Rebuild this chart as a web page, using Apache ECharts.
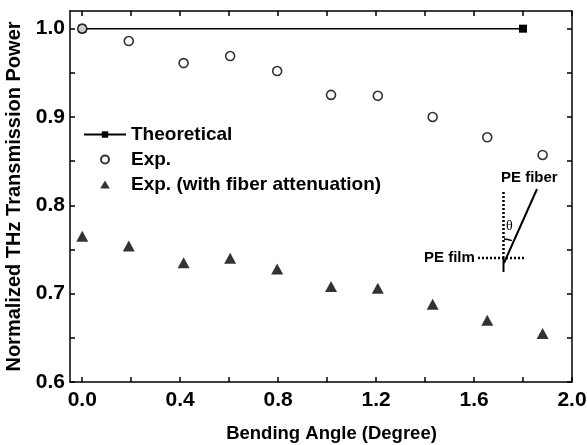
<!DOCTYPE html>
<html>
<head>
<meta charset="utf-8">
<script src="https://cdn.jsdelivr.net/npm/echarts@6/dist/echarts.min.js"></script>
<style>html,body{margin:0;padding:0;background:#fff;}#c{width:587px;height:445px;}</style>
</head>
<body>
<div id="c"></div>
<script>
var theoX = [0.0, 1.8];
var theoY = [1.0, 1.0];
var angles = [0.0, 0.19, 0.414, 0.604, 0.796, 1.016, 1.207, 1.431, 1.654, 1.88];
var expVals = [1.0, 0.986, 0.961, 0.969, 0.952, 0.925, 0.924, 0.900, 0.877, 0.857];
var expAttVals = [0.765, 0.754, 0.735, 0.740, 0.728, 0.708, 0.706, 0.688, 0.670, 0.655];
var xTickLabels = [0.0, 0.4, 0.8, 1.2, 1.6, 2.0];
var xTicks = [0.0, 0.2, 0.4, 0.6, 0.8, 1.0, 1.2, 1.4, 1.6, 1.8, 2.0];
var yTickLabels = [0.6, 0.7, 0.8, 0.9, 1.0];
var yTicks = [0.6, 0.65, 0.7, 0.75, 0.8, 0.85, 0.9, 0.95, 1.0];

function pairs(xs, ys) { return xs.map(function (x, i) { return [x, ys[i]]; }); }

var FONT = '"Liberation Sans", Arial, sans-serif';
var lineCol = '#000';
var axisLine = { show: true, onZero: false, lineStyle: { color: lineCol, width: 1.5 } };
var tickStyle = { color: lineCol, width: 1.5 };

var chart = echarts.init(document.getElementById('c'));
chart.setOption({
  animation: false,
  backgroundColor: '#fff',
  grid: { left: 70, right: 15, top: 11, bottom: 63, containLabel: false, outerBoundsMode: 'none' },
  legend: {
    orient: 'vertical',
    left: 83,
    top: 125,
    padding: 0,
    itemWidth: 42,
    itemHeight: 8,
    itemGap: 6,
    textStyle: { fontFamily: FONT, fontWeight: 'bold', fontSize: 19, color: '#000', lineHeight: 17 },
    data: [
      { name: 'Theoretical' },
      { name: 'Exp.' },
      { name: 'Exp. (with fiber attenuation)', icon: 'path://M6,0 L12,10 L0,10 Z' }
    ]
  },
  xAxis: [{
    type: 'value', min: -0.05, max: 2.0, position: 'bottom',
    name: 'Bending Angle (Degree)', nameLocation: 'middle', nameGap: 42,
    nameTextStyle: { fontFamily: FONT, fontWeight: 'bold', fontSize: 18.5, color: '#000', padding: [0, 0, 0, 21] },
    axisLine: axisLine,
    axisTick: { show: true, inside: true, length: 5, lineStyle: tickStyle, customValues: xTicks },
    axisLabel: { show: true, customValues: xTickLabels, margin: 8, fontFamily: FONT, fontWeight: 'bold', fontSize: 21, color: '#000',
      formatter: function (v) { return v.toFixed(1); } },
    splitLine: { show: false }
  }, {
    type: 'value', min: -0.05, max: 2.0, position: 'top',
    axisLine: axisLine,
    axisTick: { show: true, inside: true, length: 5, lineStyle: tickStyle, customValues: xTicks },
    axisLabel: { show: false },
    splitLine: { show: false }
  }],
  yAxis: [{
    type: 'value', min: 0.6, max: 1.02, position: 'left',
    name: 'Normalized THz Transmission Power', nameLocation: 'middle', nameGap: 40,
    nameTextStyle: { fontFamily: FONT, fontWeight: 'bold', fontSize: 20, color: '#000' },
    axisLine: axisLine,
    axisTick: { show: true, inside: true, length: 5, lineStyle: tickStyle, customValues: yTicks },
    axisLabel: { show: true, customValues: yTickLabels, margin: 5, fontFamily: FONT, fontWeight: 'bold', fontSize: 21, color: '#000',
      formatter: function (v) { return v.toFixed(1); } },
    splitLine: { show: false }
  }, {
    type: 'value', min: 0.6, max: 1.02, position: 'right',
    axisLine: axisLine,
    axisTick: { show: true, inside: true, length: 5, lineStyle: tickStyle, customValues: yTicks },
    axisLabel: { show: false },
    splitLine: { show: false }
  }],
  series: [{
    name: 'Theoretical', type: 'line', data: pairs(theoX, theoY), z: 2,
    symbol: 'rect', symbolSize: 8, showAllSymbol: true,
    lineStyle: { color: '#000', width: 1.5 },
    itemStyle: { color: '#000' }
  }, {
    name: 'Exp.', type: 'scatter', data: pairs(angles, expVals), z: 5,
    symbol: 'circle', symbolSize: 9,
    itemStyle: { color: '#fff', borderColor: '#000', borderWidth: 1.6 }
  }, {
    name: 'Exp. (with fiber attenuation)', type: 'scatter', data: pairs(angles, expAttVals), z: 5,
    symbol: 'triangle', symbolSize: [12, 11],
    itemStyle: { color: '#000' }
  }],
  graphic: [
    { type: 'text', left: 501, top: 170, style: { text: 'PE fiber', font: 'bold 15px ' + FONT, fill: '#000' } },
    { type: 'text', left: 424, top: 250, style: { text: 'PE film', font: 'bold 15px ' + FONT, fill: '#000' } },
    { type: 'line', shape: { x1: 503.5, y1: 192, x2: 503.5, y2: 256 }, style: { stroke: '#000', lineWidth: 2.5, lineDash: [2, 2] } },
    { type: 'line', shape: { x1: 503.5, y1: 256, x2: 503.5, y2: 272 }, style: { stroke: '#000', lineWidth: 2 } },
    { type: 'line', shape: { x1: 478, y1: 258, x2: 525, y2: 258 }, style: { stroke: '#000', lineWidth: 2.5, lineDash: [2, 2] } },
    { type: 'line', shape: { x1: 504, y1: 263, x2: 537, y2: 189 }, style: { stroke: '#000', lineWidth: 2 } },
    { type: 'arc', shape: { cx: 504, cy: 258, r: 19, startAngle: -Math.PI / 2, endAngle: -1.15, clockwise: true }, style: { stroke: '#000', lineWidth: 1.5, fill: null } },
    { type: 'text', left: 506, top: 219, style: { text: 'θ', font: '14px "Liberation Serif", serif', fill: '#000' } }
  ]
});
</script>
</body>
</html>
